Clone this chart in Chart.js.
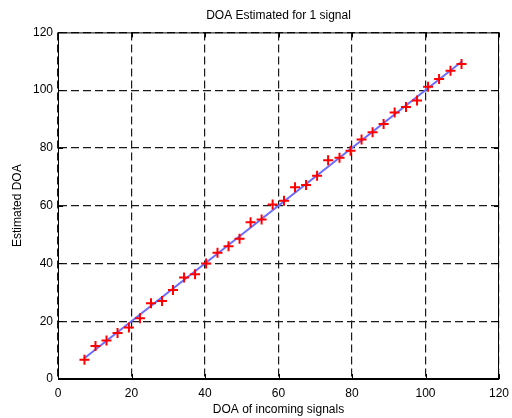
<!DOCTYPE html>
<html>
<head>
<meta charset="utf-8">
<script src="https://cdn.jsdelivr.net/npm/chart.js@4.4.1/dist/chart.umd.min.js"></script>
<style>
    html, body { margin: 0; padding: 0; background: #fff; }
    canvas { display: block; }
</style>
</head>
<body>
<canvas id="doaChart" width="512" height="418"></canvas>
<script>
// incoming DOA vs estimated DOA
const incomingDoa = [7.2, 10.2, 13.2, 16.2, 19.3, 22.3, 25.3, 28.3, 31.3, 34.3, 37.3, 40.3,
    43.4, 46.4, 49.4, 52.4, 55.4, 58.4, 61.5, 64.5, 67.5, 70.5, 73.5, 76.6, 79.6, 82.6,
    85.6, 88.6, 91.6, 94.7, 97.7, 100.7, 103.7, 106.8, 109.8];
const estimatedDoa = [6.7, 11.4, 13.3, 15.9, 17.8, 21.0, 26.2, 27.0, 30.8, 35.1, 36.3, 40.0,
    43.7, 46.0, 48.6, 54.3, 55.2, 60.4, 61.7, 66.4, 67.2, 70.4, 75.7, 76.6, 79.0, 82.9,
    85.4, 88.3, 92.3, 94.2, 96.4, 101.2, 103.9, 106.7, 109.1];
// ideal line endpoints
const idealX = [7, 110];
const idealY = [7, 110];
const axisTicks = [0, 20, 40, 60, 80, 100, 120];

const fontFamily = '"Liberation Sans", Arial, sans-serif';

// MATLAB-like frame with inward tick marks
const boxPlugin = {
    id: 'boxPlugin',
    afterDraw(chart) {
        const { ctx, chartArea: a, scales } = chart;
        ctx.save();
        ctx.strokeStyle = '#000';
        ctx.lineWidth = 1;
        ctx.setLineDash([]);
        ctx.strokeRect(a.left + 0.5, a.top + 0.5, a.right - a.left - 1, a.bottom - a.top - 1);
        ctx.beginPath();
        axisTicks.forEach(v => {
            const px = Math.round(scales.x.getPixelForValue(v)) + 0.5;
            ctx.moveTo(px, a.bottom); ctx.lineTo(px, a.bottom - 5);
            ctx.moveTo(px, a.top); ctx.lineTo(px, a.top + 5);
            const py = Math.round(scales.y.getPixelForValue(v)) + 0.5;
            ctx.moveTo(a.left, py); ctx.lineTo(a.left + 5, py);
            ctx.moveTo(a.right, py); ctx.lineTo(a.right - 5, py);
        });
        ctx.stroke();
        ctx.restore();
    }
};

const ctx = document.getElementById('doaChart').getContext('2d');
new Chart(ctx, {
    type: 'scatter',
    data: {
        datasets: [{
            label: 'Estimated',
            data: incomingDoa.map((x, i) => ({ x: x, y: estimatedDoa[i] })),
            pointStyle: 'cross',
            pointRadius: 5,
            borderColor: '#ff0000',
            backgroundColor: '#ff0000',
            pointBorderWidth: 2,
            showLine: false,
            order: 0
        }, {
            label: 'Ideal',
            data: idealX.map((x, i) => ({ x: x, y: idealY[i] })),
            showLine: true,
            borderColor: '#6b6bff',
            borderWidth: 2,
            pointRadius: 0,
            order: 1
        }]
    },
    options: {
        responsive: false,
        animation: false,
        layout: { padding: { top: 0, right: 13, bottom: 1, left: 0 } },
        plugins: {
            legend: { display: false },
            tooltip: { enabled: false },
            title: {
                display: true,
                fullSize: false,
                text: 'DOA Estimated for 1 signal',
                color: '#000',
                font: { family: fontFamily, size: 12, weight: 'normal' },
                padding: { top: 8, bottom: 10 }
            }
        },
        scales: {
            x: {
                type: 'linear',
                min: 0,
                max: 120,
                afterBuildTicks: s => { s.ticks = axisTicks.map(v => ({ value: v })); },
                afterFit: s => { s.height = 38; s.paddingLeft = 0; s.paddingRight = 0; },
                grid: { color: '#1a1a1a', lineWidth: 1.2, drawTicks: false },
                border: { display: true, color: '#000', dash: [8, 4] },
                ticks: { color: '#000', padding: 7, font: { family: fontFamily, size: 12 } },
                title: {
                    display: true,
                    text: 'DOA of incoming signals',
                    color: '#000',
                    font: { family: fontFamily, size: 12 },
                    padding: { top: 0, bottom: 0 }
                }
            },
            y: {
                type: 'linear',
                min: 0,
                max: 120,
                afterBuildTicks: s => { s.ticks = axisTicks.map(v => ({ value: v })); },
                afterFit: s => { s.width = 58; s.paddingTop = 0; s.paddingBottom = 0; },
                grid: { color: '#1a1a1a', lineWidth: 1.2, drawTicks: false },
                border: { display: true, color: '#000', dash: [8, 4] },
                ticks: { color: '#000', padding: 5, font: { family: fontFamily, size: 12 } },
                title: {
                    display: true,
                    text: 'Estimated DOA',
                    color: '#000',
                    font: { family: fontFamily, size: 12 },
                    padding: { top: 10, bottom: 0 }
                }
            }
        }
    },
    plugins: [boxPlugin]
});
</script>
</body>
</html>
